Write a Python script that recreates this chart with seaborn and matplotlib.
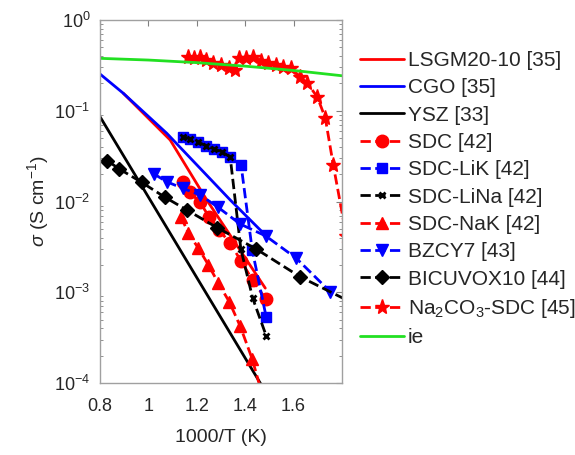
import matplotlib
matplotlib.use("Agg")
import matplotlib.pyplot as plt
import numpy as np
import seaborn as sns
from matplotlib.ticker import FixedLocator, LogLocator, NullFormatter

# values (x = 1000/T, y = sigma in S/cm)
lsgm_x = [0.896, 1.090, 1.241, 1.483]
lsgm_y = [0.156, 0.0476, 0.0104, 0.00111]

cgo_x = [0.8, 0.896, 1.076, 1.338, 1.487]
cgo_y = [0.254, 0.156, 0.0564, 0.0104, 0.00417]

ysz_x = [0.8, 1.0, 1.2, 1.462, 1.48]
ysz_y = [0.086, 0.0112, 0.00145, 1.0e-4, 8.3e-5]

sdc_x = [1.145, 1.172, 1.214, 1.251, 1.292, 1.336, 1.383, 1.431, 1.485]
sdc_y = [0.0162, 0.01257, 0.00975, 0.00675, 0.00485, 0.00353, 0.00221, 0.00135, 0.000843]

lik_x = [1.143, 1.172, 1.205, 1.239, 1.272, 1.305, 1.338, 1.383, 1.429, 1.487]
lik_y = [0.0520, 0.0489, 0.0453, 0.0409, 0.0379, 0.0351, 0.0309, 0.0252, 0.00292, 0.00053]

lina_x = [1.143, 1.172, 1.205, 1.239, 1.272, 1.305, 1.338, 1.382, 1.431, 1.487]
lina_y = [0.0520, 0.0489, 0.0453, 0.0409, 0.0379, 0.0351, 0.0309, 0.0030, 0.00086, 0.00033]

nak_x = [1.135, 1.165, 1.207, 1.248, 1.289, 1.334, 1.379, 1.429, 1.48]
nak_y = [0.0068, 0.00446, 0.00305, 0.0020, 0.00126, 0.000787, 0.000425, 0.000184, 6e-5]

bzcy_x = [1.023, 1.076, 1.141, 1.214, 1.289, 1.379, 1.485, 1.611, 1.752]
bzcy_y = [0.0201, 0.0165, 0.0140, 0.0118, 0.00859, 0.00565, 0.00417, 0.00237, 0.00101]

bicu_x = [0.829, 0.877, 0.973, 1.067, 1.159, 1.283, 1.445, 1.627, 1.876]
bicu_y = [0.0283, 0.0231, 0.0162, 0.0112, 0.00806, 0.00517, 0.0030, 0.00148, 0.00069]

na_x = [1.164, 1.189, 1.214, 1.239, 1.268, 1.301, 1.334, 1.359, 1.375, 1.404, 1.433,
        1.466, 1.495, 1.528, 1.557, 1.590, 1.627, 1.656, 1.698, 1.731, 1.764, 1.818]
na_y = [0.391, 0.381, 0.391, 0.362, 0.336, 0.319, 0.296, 0.281, 0.381, 0.381, 0.396,
        0.353, 0.336, 0.319, 0.307, 0.296, 0.235, 0.202, 0.142, 0.0832, 0.0252, 0.00417]

ie_x = [0.8, 1.0, 1.2, 1.4, 1.6, 1.8]
ie_y = [0.378, 0.362, 0.339, 0.31, 0.278, 0.243]

sns.set_style("white")
plt.rcParams['font.family'] = ['Liberation Sans', 'DejaVu Sans']
plt.rcParams['mathtext.fontset'] = 'custom'
plt.rcParams['mathtext.rm'] = 'Liberation Sans'
plt.rcParams['mathtext.it'] = 'Liberation Sans:italic'

fig = plt.figure(figsize=(5.75, 4.55), dpi=100)
ax = fig.add_axes([100 / 575, 72 / 455, 242 / 575, 363 / 455])

red, blue, black, green = '#ff0000', '#0000ff', '#000000', '#22e022'
lw = 2

series = [
    (lsgm_x, lsgm_y, 'LSGM20-10 [35]', red, '-', None, 0),
    (cgo_x, cgo_y, 'CGO [35]', blue, '-', None, 0),
    (ysz_x, ysz_y, 'YSZ [33]', black, '-', None, 0),
    (sdc_x, sdc_y, 'SDC [42]', red, '--', 'o', 9),
    (lik_x, lik_y, 'SDC-LiK [42]', blue, '--', 's', 7),
    (lina_x, lina_y, 'SDC-LiNa [42]', black, '--', 'x', 5),
    (nak_x, nak_y, 'SDC-NaK [42]', red, '--', '^', 9),
    (bzcy_x, bzcy_y, 'BZCY7 [43]', blue, '--', 'v', 9),
    (bicu_x, bicu_y, 'BICUVOX10 [44]', black, '--', 'D', 7),
    (na_x, na_y, 'Na$_2$CO$_3$-SDC [45]', red, '--', '*', 11),
    (ie_x, ie_y, 'ie', green, '-', None, 0),
]

for xs, ys, name, col, ls, mk, ms in series:
    kw = dict(x=xs, y=ys, ax=ax, color=col, linestyle=ls, linewidth=lw,
              label=name, sort=False, estimator=None)
    if mk is not None:
        kw.update(marker=mk, markersize=ms, markeredgecolor=col,
                  markerfacecolor=col, markeredgewidth=2 if mk == 'x' else 1)
    sns.lineplot(**kw)

ax.set_yscale('log')
ax.set_xlim(0.8, 1.8)
ax.set_ylim(1e-4, 1)
ax.xaxis.set_major_locator(FixedLocator([0.8, 1.0, 1.2, 1.4, 1.6]))
ax.set_xticklabels(['0.8', '1', '1.2', '1.4', '1.6'])
ax.yaxis.set_major_locator(LogLocator(base=10, numticks=10))
ax.yaxis.set_minor_locator(LogLocator(base=10, subs=np.arange(2, 10), numticks=10))
ax.yaxis.set_minor_formatter(NullFormatter())

for s in ax.spines.values():
    s.set_color('#a0a0a0')
    s.set_linewidth(1)
ax.tick_params(which='both', direction='in', top=True, right=True,
               color='#808080', labelcolor='#262626', labelsize=13)
ax.tick_params(which='major', length=4)
ax.tick_params(which='minor', length=2, left=True, right=True)
ax.tick_params(axis='x', which='major', pad=11)
ax.tick_params(axis='y', which='major', pad=7)

ax.set_xlabel('1000/T (K)', fontsize=14, color='#262626', labelpad=10)
ax.set_ylabel(r'$\sigma$ (S cm$^{-1}$)', fontsize=14, color='#262626', labelpad=2)

ax.legend(loc='upper left', bbox_to_anchor=(1.075, 0.915), frameon=False,
          fontsize=15, handlelength=2.1, handletextpad=0.2, labelspacing=0.4,
          borderaxespad=0, borderpad=0)

fig.savefig('out.png', dpi=100)
